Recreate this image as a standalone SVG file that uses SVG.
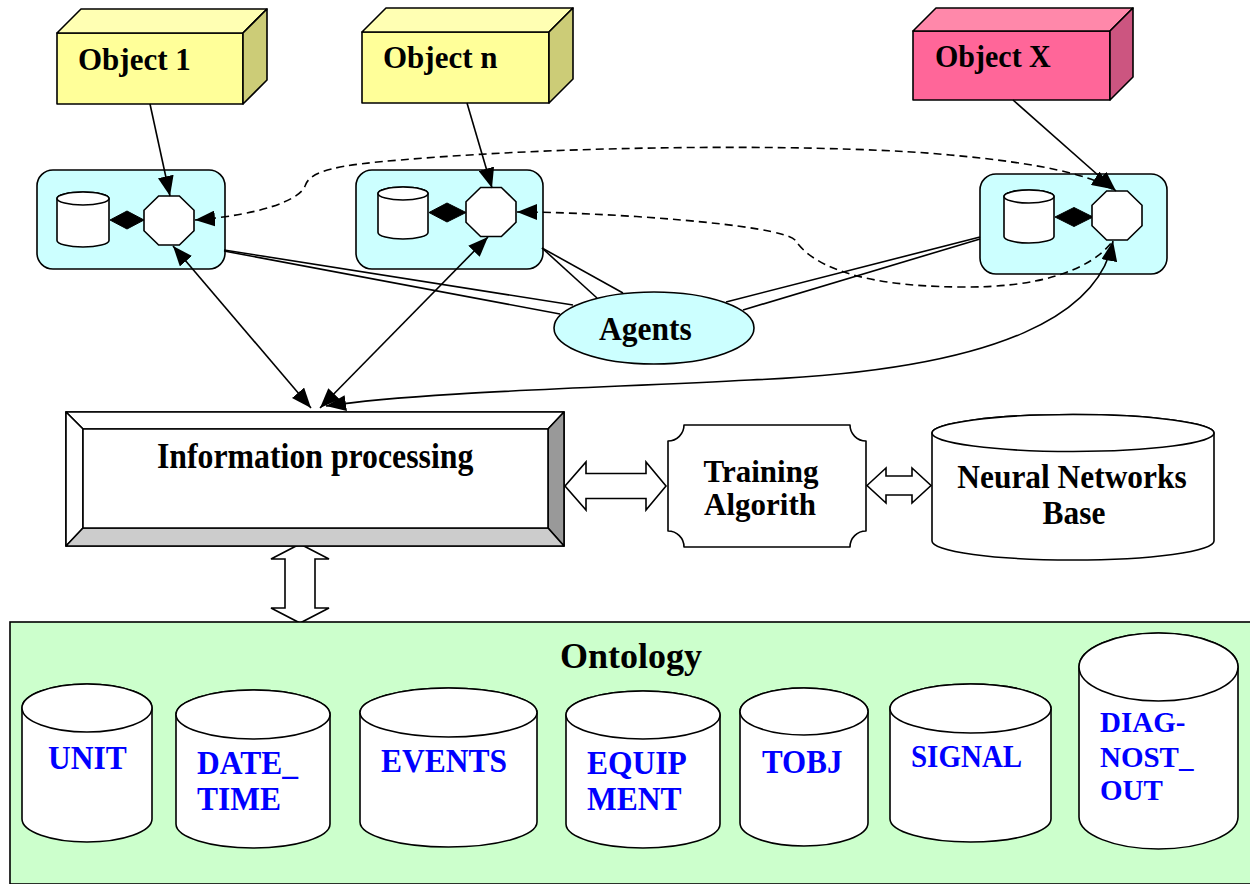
<svg xmlns="http://www.w3.org/2000/svg" width="1250" height="884" viewBox="0 0 1250 884">
<style>
.ln{stroke:#000;stroke-width:1.6;stroke-linejoin:round}
.lbl{font-family:"Liberation Serif","Times New Roman",serif;font-weight:bold;fill:#000}
.blue{fill:#0000FF}
.conn{fill:none;stroke:#000;stroke-width:1.6}
.dash{stroke-dasharray:8 5}
.cyl{fill:#fff;stroke:#000;stroke-width:1.6}
.node{fill:#CCFFFF;stroke:#000;stroke-width:1.6}
.blk{fill:#fff;stroke:#000;stroke-width:1.6;stroke-linejoin:miter}
</style>
<defs>
<marker id="ah" viewBox="0 0 20 16" markerWidth="20" markerHeight="16" refX="20" refY="8" markerUnits="userSpaceOnUse" orient="auto-start-reverse">
<path d="M0,0 L20,8 L0,16 z" fill="#000"/>
</marker>
<polygon id="oct" points="-10.35,-24.5 10.35,-24.5 25,-10.2 25,10.2 10.35,24.5 -10.35,24.5 -25,10.2 -25,-10.2" fill="#fff" stroke="#000" stroke-width="1.6"/>
</defs>
<rect width="1250" height="884" fill="#fff"/>

<!-- Objects -->
<g id="object1">
<polygon points="57,33 243,33 243,104 57,104" fill="#FFFF99" class="ln"/>
<polygon points="57,33 81,9 267,9 243,33" fill="#FFFFB3" class="ln"/>
<polygon points="243,33 267,9 267,80 243,104" fill="#CCCC77" class="ln"/>
<text transform="translate(78,70) scale(1,1.05)" class="lbl" font-size="31">Object 1</text>
</g>
<g id="objectn">
<polygon points="362,32 549,32 549,103 362,103" fill="#FFFF99" class="ln"/>
<polygon points="362,32 386,8 573,8 549,32" fill="#FFFFB3" class="ln"/>
<polygon points="549,32 573,8 573,79 549,103" fill="#CCCC77" class="ln"/>
<text transform="translate(383,68) scale(1,1.05)" class="lbl" font-size="31">Object n</text>
</g>
<g id="objectX">
<polygon points="913,31 1110,31 1110,100 913,100" fill="#FF6699" class="ln"/>
<polygon points="913,31 936,8 1133,8 1110,31" fill="#FF88AA" class="ln"/>
<polygon points="1110,31 1133,8 1133,77 1110,100" fill="#CC5580" class="ln"/>
<text transform="translate(935,67) scale(1,1.08)" class="lbl" font-size="30">Object X</text>
</g>

<!-- Agent nodes -->
<g id="node1">
<rect x="37" y="170" width="188" height="99" rx="16" class="node"/>
<path d="M57,198.5 V240.5 A26,6.5 0 0 0 109,240.5 V198.5 A26,6.5 0 0 0 57,198.5 Z" class="cyl"/>
<ellipse cx="83" cy="198.5" rx="26" ry="6.5" class="cyl"/>
<polygon points="110,220 127,211 144,220 127,229" fill="#000" stroke="#000" stroke-width="1"/>
<use href="#oct" x="169" y="220.5"/>
</g>
<g id="node2">
<rect x="356" y="170" width="187" height="99" rx="16" class="node"/>
<path d="M378,193.5 V232.5 A25,6.5 0 0 0 428,232.5 V193.5 A25,6.5 0 0 0 378,193.5 Z" class="cyl"/>
<ellipse cx="403" cy="193.5" rx="25" ry="6.5" class="cyl"/>
<polygon points="429,212.5 447,203 466,212.5 447,222" fill="#000" stroke="#000" stroke-width="1"/>
<use href="#oct" x="491" y="212"/>
</g>
<g id="node3">
<rect x="980" y="174" width="187" height="100" rx="16" class="node"/>
<path d="M1004,196.5 V236.5 A25,6.5 0 0 0 1054,236.5 V196.5 A25,6.5 0 0 0 1004,196.5 Z" class="cyl"/>
<ellipse cx="1029" cy="196.5" rx="25" ry="6.5" class="cyl"/>
<polygon points="1055,217 1074,207.5 1093,217 1074,226.5" fill="#000" stroke="#000" stroke-width="1"/>
<use href="#oct" x="1117" y="215.5"/>
</g>

<!-- Connectors -->
<g id="connectors">
<line x1="150" y1="104" x2="170" y2="196" class="conn" marker-end="url(#ah)"/>
<line x1="467" y1="103" x2="492" y2="188" class="conn" marker-end="url(#ah)"/>
<line x1="1013" y1="100" x2="1116" y2="191" class="conn" marker-end="url(#ah)"/>
<line x1="224" y1="250" x2="573" y2="305" class="conn"/>
<line x1="224" y1="251" x2="560" y2="314" class="conn"/>
<line x1="542" y1="248" x2="597" y2="298" class="conn"/>
<line x1="542" y1="248" x2="623" y2="293" class="conn"/>
<line x1="980" y1="237" x2="726" y2="302" class="conn"/>
<line x1="980" y1="239" x2="743" y2="310" class="conn"/>
<line x1="173" y1="246" x2="311" y2="408" class="conn" marker-start="url(#ah)" marker-end="url(#ah)"/>
<line x1="488" y1="237" x2="320" y2="408" class="conn" marker-start="url(#ah)" marker-end="url(#ah)"/>
<path d="M1113,241 C1100,310 1010,370 750,380 C600,388 420,392 326,406" class="conn" marker-start="url(#ah)" marker-end="url(#ah)"/>
<path d="M195,220 C260,215 300,200 305,186 C310,170 340,165 400,160 C600,143 850,145 950,155 C1040,163 1090,175 1112,189" class="conn dash" marker-start="url(#ah)" marker-end="url(#ah)"/>
<path d="M517,212 C600,212 780,224 795,240 C810,262 850,286 960,287 C1040,288 1090,270 1112,242" class="conn dash" marker-start="url(#ah)"/>
<polygon points="300,544 329,559 315,559 315,608 329,608 300,623 271,608 285,608 285,559 271,559" class="blk"/>
<polygon points="565,486 586,462 586,473.5 646,473.5 646,462 666,486 646,510 646,498.5 586,498.5 586,510" class="blk"/>
<polygon points="867,485.5 886,468 886,476 912,476 912,468 931,485.5 912,503 912,495 886,495 886,503" class="blk"/>
</g>

<g id="agents">
<ellipse cx="654" cy="328" rx="100" ry="36" class="node"/>
<text transform="translate(599,340) scale(1,1.05)" class="lbl" font-size="31.5">Agents</text>
</g>

<g id="infoproc">
<rect x="66" y="412" width="498" height="134" fill="#fff" class="ln"/>
<polygon points="66,412 564,412 548,429 83,429" fill="#fff" class="ln"/>
<polygon points="66,412 83,429 83,528 66,546" fill="#fff" class="ln"/>
<polygon points="564,412 564,546 548,528 548,429" fill="#999999" class="ln"/>
<polygon points="66,546 83,528 548,528 564,546" fill="#CCCCCC" class="ln"/>
<rect x="83" y="429" width="465" height="99" fill="#fff" class="ln"/>
<text transform="translate(157,468) scale(1,1.1)" class="lbl" font-size="31.8">Information processing</text>
</g>

<g id="training">
<path d="M684,425 H850 A16,16 0 0 0 866,441 V531 A16,16 0 0 0 850,547 H684 A16,16 0 0 0 668,531 V441 A16,16 0 0 0 684,425 Z" fill="#fff" class="ln"/>
<text transform="translate(761,482) scale(1,1.05)" class="lbl" font-size="31" text-anchor="middle">Training</text>
<text transform="translate(760,515) scale(1,1.05)" class="lbl" font-size="31" text-anchor="middle">Algorith</text>
</g>

<g id="nnbase">
<path d="M932,433 V541 A141,19 0 0 0 1214,541 V433 A141,18.5 0 0 0 932,433 Z" class="cyl"/>
<ellipse cx="1073" cy="433" rx="141" ry="18.5" class="cyl"/>
<text transform="translate(1072,488) scale(1,1.1)" class="lbl" font-size="31.4" text-anchor="middle">Neural Networks</text>
<text transform="translate(1074,524) scale(1,1.1)" class="lbl" font-size="31.4" text-anchor="middle">Base</text>
</g>

<g id="ontology">
<rect x="10" y="622" width="1250" height="262" fill="#CCFFCC" stroke="#000" stroke-width="1.6"/>
<text x="560" y="668" class="lbl" font-size="36">Ontology</text>
</g>

<g id="unit">
<path d="M22,708 V819 A65,23 0 0 0 152,819 V708 A65,24 0 0 0 22,708 Z" class="cyl"/>
<ellipse cx="87" cy="708" rx="65" ry="24" class="cyl"/>
<text transform="translate(48,769) scale(1,1.07)" class="lbl blue" font-size="31.5">UNIT</text>
</g>
<g id="datetime">
<path d="M176,714.5 V824 A77,24 0 0 0 330,824 V714.5 A77,24.5 0 0 0 176,714.5 Z" class="cyl"/>
<ellipse cx="253" cy="714.5" rx="77" ry="24.5" class="cyl"/>
<text transform="translate(197,774) scale(1,1.07)" class="lbl blue" font-size="31.5">DATE_</text>
<text transform="translate(197,810) scale(1,1.07)" class="lbl blue" font-size="31.5">TIME</text>
</g>
<g id="events">
<path d="M360,712.5 V822 A88.5,25 0 0 0 537,822 V712.5 A88.5,24.5 0 0 0 360,712.5 Z" class="cyl"/>
<ellipse cx="448.5" cy="712.5" rx="88.5" ry="24.5" class="cyl"/>
<text transform="translate(381,772) scale(1,1.07)" class="lbl blue" font-size="31.5">EVENTS</text>
</g>
<g id="equipment">
<path d="M566,715 V824 A77,24 0 0 0 720,824 V715 A77,24 0 0 0 566,715 Z" class="cyl"/>
<ellipse cx="643" cy="715" rx="77" ry="24" class="cyl"/>
<text transform="translate(587,774) scale(1,1.07)" class="lbl blue" font-size="31.5">EQUIP</text>
<text transform="translate(587,810) scale(1,1.07)" class="lbl blue" font-size="31.5">MENT</text>
</g>
<g id="tobj">
<path d="M740,711.5 V823 A64,23 0 0 0 868,823 V711.5 A64,23.5 0 0 0 740,711.5 Z" class="cyl"/>
<ellipse cx="804" cy="711.5" rx="64" ry="23.5" class="cyl"/>
<text transform="translate(762,773) scale(1,1.07)" class="lbl blue" font-size="31">TOBJ</text>
</g>
<g id="signal">
<path d="M890,708.5 V819 A80.5,23 0 0 0 1051,819 V708.5 A80.5,24.5 0 0 0 890,708.5 Z" class="cyl"/>
<ellipse cx="970.5" cy="708.5" rx="80.5" ry="24.5" class="cyl"/>
<text transform="translate(911,767) scale(1,1.07)" class="lbl blue" font-size="29">SIGNAL</text>
</g>
<g id="diagnost">
<path d="M1079,667 V817 A79.5,32 0 0 0 1238,817 V667 A79.5,34 0 0 0 1079,667 Z" class="cyl"/>
<ellipse cx="1158.5" cy="667" rx="79.5" ry="34" class="cyl"/>
<text transform="translate(1100,732) scale(1,1.05)" class="lbl blue" font-size="29">DIAG-</text>
<text transform="translate(1100,767) scale(1,1.05)" class="lbl blue" font-size="29">NOST_</text>
<text transform="translate(1100,800) scale(1,1.05)" class="lbl blue" font-size="29">OUT</text>
</g>
</svg>
